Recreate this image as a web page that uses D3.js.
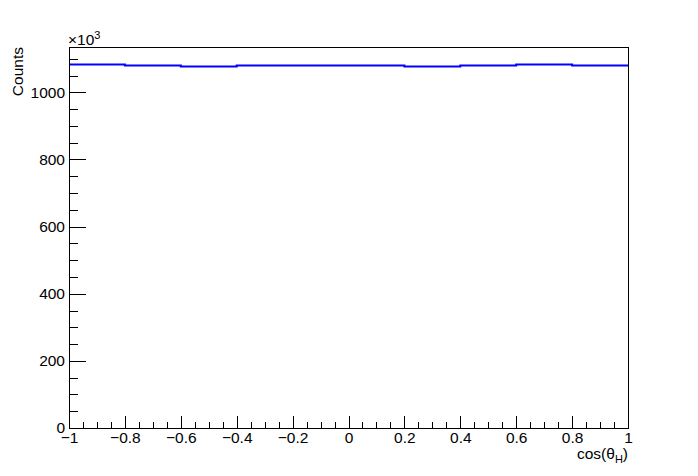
<!DOCTYPE html>
<html>
<head>
<meta charset="utf-8">
<script src="https://cdn.jsdelivr.net/npm/d3@7"></script>
<style>
  body { margin: 0; background: #fff; }
  text { font-family: "Liberation Sans", Arial, Helvetica, sans-serif; fill: #000; }
</style>
</head>
<body>
<svg id="chart"></svg>
<script>
// histogram bins (cos theta_H), counts in units of 10^3
const binEdges = [-1, -0.8, -0.6, -0.4, -0.2, 0, 0.2, 0.4, 0.6, 0.8, 1];
const counts = [1083, 1080, 1077, 1080, 1080, 1080, 1077, 1080, 1083, 1080];
const xTicks = [-1, -0.8, -0.6, -0.4, -0.2, 0, 0.2, 0.4, 0.6, 0.8, 1];
const yTicks = [0, 200, 400, 600, 800, 1000];

const w = 698;
const h = 476;
const margin = { left: 69, right: 70, top: 47, bottom: 48 };
const fontSize = 15.5;

const svg = d3.select("#chart").attr("width", w).attr("height", h);

const xScale = d3
  .scaleLinear()
  .domain([-1, 1])
  .range([margin.left, w - margin.right]);

const yScale = d3
  .scaleLinear()
  .domain([0, 1135])
  .range([h - margin.bottom, margin.top]);

const fmt = d3.format("~g");

// minor ticks first, then major ones with labels
const xMinor = d3.axisBottom(xScale).tickValues(xScale.ticks(40)).tickSize(-6).tickFormat("");
svg.append("g")
  .attr("transform", "translate(0," + (h - margin.bottom) + ")")
  .call(xMinor)
  .call((g) => g.select(".domain").remove());

const xAxis = d3.axisBottom(xScale).tickValues(xTicks).tickSize(-12).tickPadding(4).tickFormat(fmt);
svg.append("g")
  .attr("transform", "translate(0," + (h - margin.bottom) + ")")
  .call(xAxis)
  .call((g) => g.select(".domain").remove())
  .call((g) => g.selectAll("text").style("font-size", fontSize + "px").attr("fill", "#000"));

const yMinor = d3.axisLeft(yScale).tickValues(d3.range(0, 1135, 50)).tickSize(-8.5).tickFormat("");
svg.append("g")
  .attr("transform", "translate(" + margin.left + ",0)")
  .call(yMinor)
  .call((g) => g.select(".domain").remove());

const yAxis = d3.axisLeft(yScale).tickValues(yTicks).tickSize(-17).tickPadding(4).tickFormat(fmt);
svg.append("g")
  .attr("transform", "translate(" + margin.left + ",0)")
  .call(yAxis)
  .call((g) => g.select(".domain").remove())
  .call((g) => g.selectAll("text").style("font-size", fontSize + "px").attr("fill", "#000"));

svg.selectAll(".tick line").attr("stroke", "#000").attr("shape-rendering", "crispEdges");

// histogram outline as steps
const pts = [];
counts.forEach((c, i) => {
  pts.push([binEdges[i], c]);
  pts.push([binEdges[i + 1], c]);
});
const line = d3.line().x((d) => xScale(d[0])).y((d) => yScale(d[1]));
svg.append("path")
  .datum(pts)
  .attr("d", line)
  .attr("fill", "none")
  .attr("stroke", "#0000ff")
  .attr("stroke-width", 2);

// frame
svg.append("rect")
  .attr("x", margin.left)
  .attr("y", margin.top)
  .attr("width", w - margin.left - margin.right)
  .attr("height", h - margin.top - margin.bottom)
  .attr("fill", "none")
  .attr("stroke", "#000")
  .attr("shape-rendering", "crispEdges");

// exponent label
const expo = svg.append("text")
  .attr("x", margin.left - 1)
  .attr("y", margin.top - 2)
  .style("font-size", fontSize + "px");
expo.append("tspan").text("×10");
expo.append("tspan").attr("dy", -6).style("font-size", "11px").text("3");

// axis titles
svg.append("text")
  .attr("transform", "translate(23," + margin.top + ") rotate(-90)")
  .attr("text-anchor", "end")
  .style("font-size", fontSize + "px")
  .text("Counts");

const xt = svg.append("text")
  .attr("x", w - margin.right)
  .attr("y", 459)
  .attr("text-anchor", "end")
  .style("font-size", fontSize + "px");
xt.append("tspan").text("cos(θ");
xt.append("tspan").attr("dy", 4).style("font-size", "11px").text("H");
xt.append("tspan").attr("dy", -4).text(")");
</script>
</body>
</html>
